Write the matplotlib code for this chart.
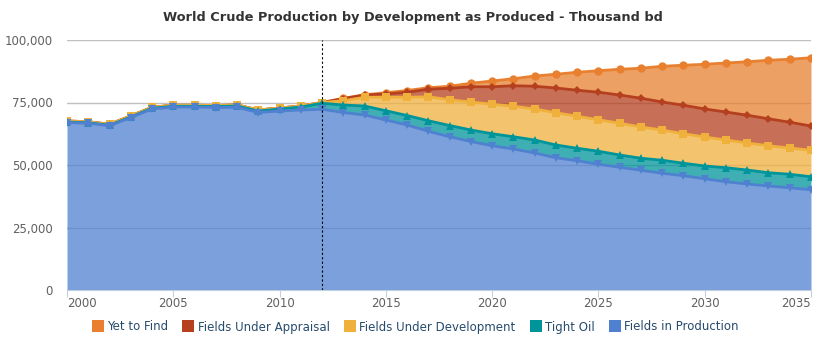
import numpy as np
import matplotlib
matplotlib.use("Agg")
import matplotlib.pyplot as plt
from matplotlib.lines import Line2D
from matplotlib.ticker import FuncFormatter, MultipleLocator

years = list(range(2000, 2036))
xtick_years = [2000, 2005, 2010, 2015, 2020, 2025, 2030, 2035]

fields_in_production = [67.0, 66.7, 65.7, 69.0, 72.4, 73.2, 73.2, 73.0, 73.1, 71.0, 71.6, 72.0,
                        72.3, 71.0, 70.0, 68.0, 66.0, 63.5, 61.3, 59.4, 57.7, 56.4, 54.8, 52.9,
                        51.7, 50.3, 49.1, 47.9, 46.7, 45.7, 44.5, 43.3, 42.4, 41.6, 40.9, 40.1]
tight_oil = [0.2, 0.2, 0.2, 0.2, 0.3, 0.3, 0.3, 0.4, 0.5, 0.6, 0.8, 1.2,
             2.4, 3.0, 3.6, 3.7, 3.8, 4.2, 4.5, 4.6, 4.8, 4.9, 5.2, 5.1,
             5.0, 5.2, 4.9, 4.8, 5.2, 5.0, 5.1, 5.6, 5.6, 5.3, 5.4, 5.2]
fields_under_development = [0.4, 0.4, 0.4, 0.4, 0.4, 0.4, 0.4, 0.4, 0.4, 0.4, 0.4, 0.4,
                            0.3, 1.7, 3.5, 5.4, 7.3, 9.6, 10.3, 11.2, 11.8, 12.2, 12.4, 12.9,
                            12.8, 12.6, 12.7, 12.5, 12.1, 11.8, 11.6, 11.1, 10.8, 10.8, 10.5, 10.6]
fields_under_appraisal = [0, 0, 0, 0, 0, 0, 0, 0, 0, 0, 0, 0,
                          0.0, 0.8, 0.9, 1.3, 2.0, 3.0, 4.6, 6.1, 7.0, 8.2, 9.1, 9.9,
                          10.4, 11.0, 11.3, 11.5, 11.2, 11.4, 11.2, 11.2, 11.1, 10.8, 10.3, 9.7]
yet_to_find = [0, 0, 0, 0, 0, 0, 0, 0, 0, 0, 0, 0,
               0.0, 0.2, 0.1, 0.5, 0.7, 0.6, 0.8, 1.4, 2.3, 2.8, 4.1, 5.5,
               7.2, 8.6, 10.3, 12.0, 14.3, 16.0, 17.9, 19.6, 21.4, 23.4, 25.2, 27.3]

series_names = ["Yet to Find", "Fields Under Appraisal", "Fields Under Development",
                "Tight Oil", "Fields in Production"]
series_values = [yet_to_find, fields_under_appraisal, fields_under_development,
                 tight_oil, fields_in_production]
colors = ["#e8802f", "#b5401f", "#f0b03c", "#00959a", "#4f81d0"]
markers = ["o", "D", "s", "^", "v"]
msizes = [6.0, 4.5, 6.0, 6.0, 6.0]
divider_year = 2012

title = "World Crude Production by Development as Produced - Thousand bd"

fig = plt.figure(figsize=(8.21, 3.5), dpi=100)
ax = fig.add_axes([67/821, 60/350, (811-67)/821, 250/350])

x = np.array(years)
bottom = np.zeros(len(years))
layers = []
for name, vals, c, m, ms in reversed(list(zip(series_names, series_values, colors, markers, msizes))):
    v = np.array(vals) * 1000.0
    top = bottom + v
    layers.append((name, bottom.copy(), top.copy(), c, m, ms))
    bottom = top

for i, (name, b, t, c, m, ms) in enumerate(reversed(layers)):
    z = 2 + i
    ax.fill_between(x, b, t, color=c, alpha=0.75, linewidth=0, zorder=z)
    ax.plot(x, t, color=c, lw=2, marker=m, markersize=ms, markeredgewidth=0, zorder=z + 0.5)

ax.axvline(divider_year, color="black", lw=0.8, ls=(0, (2, 2)), zorder=20)

ax.set_xlim(2000, 2035)
ax.set_ylim(0, 100000)
ax.yaxis.set_major_locator(MultipleLocator(25000))
ax.yaxis.set_major_formatter(FuncFormatter(lambda v, p: f"{int(v):,}"))
ax.set_xticks(xtick_years, [str(y) for y in xtick_years])
ax.grid(axis="y", color="#c0c0c0", lw=1, zorder=0)
ax.set_axisbelow(True)
for s in ["top", "right", "left"]:
    ax.spines[s].set_visible(False)
ax.spines["bottom"].set_color("#c0d0e0")
ax.spines["bottom"].set_zorder(30)
ax.tick_params(axis="y", length=0, pad=10, labelsize=8.5, labelcolor="#606060")
ax.tick_params(axis="x", length=5, color="#c0d0e0", pad=0, labelsize=8.5, labelcolor="#606060")

mt = ax.xaxis.get_major_ticks()
mt[0].label1.set_horizontalalignment("left")
mt[-1].label1.set_horizontalalignment("right")

fig.text(0.503, 1 - 18/350, title, ha="center", va="center", fontsize=9.3,
         fontweight="bold", color="#333333")

handles = [Line2D([0], [0], marker="s", color="none", markerfacecolor=c, markeredgewidth=0,
                  markersize=9) for c in colors]
leg = fig.legend(handles, series_names, loc="center", bbox_to_anchor=(0.506, 1 - 327/350),
                 ncol=5, frameon=False, fontsize=8.5, handletextpad=0.3, columnspacing=1.2,
                 handlelength=1.0)
for t in leg.get_texts():
    t.set_color("#274b6d")

fig.savefig("out.png", dpi=100)
